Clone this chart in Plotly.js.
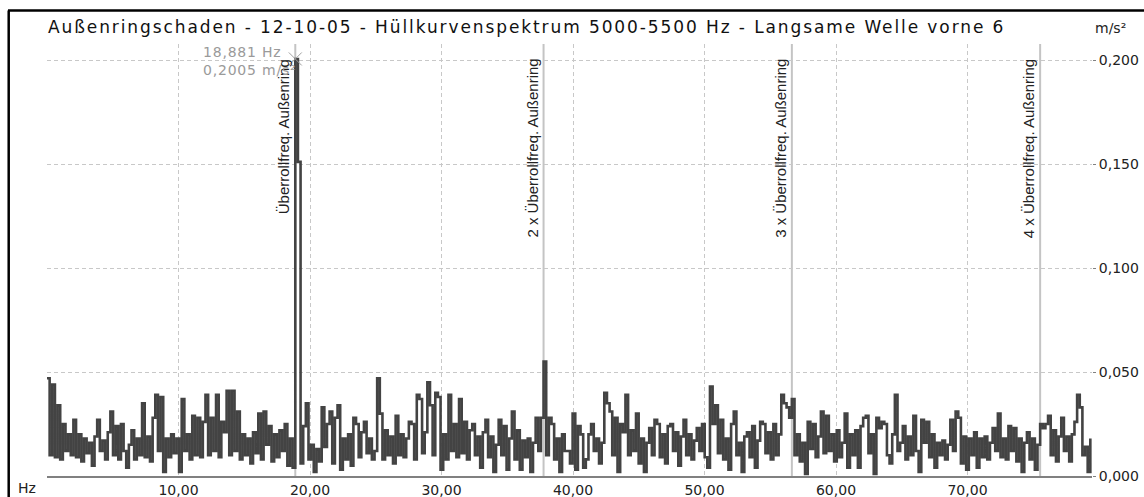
<!DOCTYPE html>
<html>
<head>
<meta charset="utf-8">
<script src="https://cdn.plot.ly/plotly-3.0.1.min.js"></script>
<style>
html,body{margin:0;padding:0;background:#fff;}
#chart{width:1144px;height:497px;}
#chart .gtitle{letter-spacing:1.9px;}
#chart .annotation[data-index="4"] text{letter-spacing:0.8px;}
</style>
</head>
<body>
<div id="chart"></div>
<script>
// Envelope spectrum amplitude (m/s²)
const amplitude = [
0.047,0.010,0.044,0.009,0.034,0.008,0.025,0.012,0.020,0.010,
0.027,0.009,0.020,0.007,0.018,0.011,0.016,0.005,0.019,0.027,
0.012,0.017,0.008,0.021,0.031,0.010,0.024,0.008,0.025,0.012,
0.004,0.015,0.022,0.008,0.018,0.010,0.035,0.009,0.019,0.007,
0.028,0.039,0.012,0.038,0.002,0.018,0.009,0.020,0.011,0.018,
0.002,0.037,0.012,0.020,0.008,0.029,0.010,0.028,0.009,0.026,
0.039,0.010,0.028,0.012,0.039,0.009,0.026,0.021,0.041,0.010,
0.041,0.012,0.031,0.008,0.020,0.010,0.018,0.006,0.021,0.011,
0.030,0.008,0.031,0.015,0.024,0.007,0.020,0.009,0.022,0.012,
0.025,0.005,0.018,0.004,0.2005,0.151,0.006,0.024,0.035,0.008,
0.015,0.002,0.013,0.007,0.033,0.014,0.025,0.031,0.006,0.028,
0.034,0.003,0.018,0.008,0.020,0.005,0.028,0.025,0.009,0.021,
0.026,0.011,0.018,0.008,0.012,0.047,0.030,0.008,0.022,0.010,
0.019,0.006,0.029,0.010,0.020,0.009,0.018,0.026,0.025,0.008,
0.039,0.037,0.011,0.021,0.045,0.034,0.010,0.040,0.038,0.003,
0.020,0.008,0.039,0.012,0.025,0.009,0.037,0.011,0.026,0.008,
0.022,0.025,0.010,0.019,0.004,0.021,0.027,0.009,0.019,0.002,
0.015,0.027,0.010,0.024,0.003,0.018,0.031,0.008,0.022,0.003,
0.017,0.009,0.018,0.002,0.016,0.028,0.012,0.028,0.055,0.010,
0.028,0.025,0.008,0.018,0.002,0.020,0.012,0.012,0.006,0.030,
0.003,0.024,0.020,0.004,0.008,0.020,0.025,0.012,0.018,0.006,
0.016,0.040,0.035,0.031,0.010,0.028,0.002,0.025,0.021,0.039,
0.010,0.022,0.012,0.030,0.006,0.018,0.002,0.016,0.023,0.010,
0.027,0.025,0.009,0.020,0.006,0.024,0.025,0.012,0.021,0.005,
0.019,0.027,0.010,0.020,0.008,0.017,0.023,0.012,0.025,0.009,
0.004,0.043,0.025,0.034,0.011,0.027,0.008,0.018,0.003,0.025,
0.031,0.010,0.016,0.002,0.019,0.021,0.009,0.024,0.004,0.017,
0.026,0.025,0.011,0.021,0.008,0.025,0.010,0.020,0.039,0.035,
0.033,0.028,0.037,0.010,0.020,0.007,0.016,0.001,0.026,0.013,
0.025,0.009,0.019,0.031,0.011,0.029,0.012,0.020,0.007,0.022,
0.009,0.016,0.030,0.004,0.020,0.010,0.022,0.004,0.024,0.028,
0.029,0.011,0.020,0.001,0.028,0.023,0.026,0.025,0.010,0.006,
0.020,0.039,0.012,0.016,0.024,0.008,0.019,0.010,0.029,0.012,
0.002,0.027,0.016,0.026,0.009,0.020,0.004,0.016,0.010,0.017,
0.008,0.015,0.027,0.012,0.031,0.028,0.006,0.019,0.003,0.018,
0.010,0.021,0.004,0.018,0.009,0.019,0.008,0.016,0.023,0.012,
0.030,0.009,0.018,0.008,0.024,0.012,0.023,0.007,0.018,0.002,
0.016,0.021,0.008,0.018,0.003,0.015,0.025,0.023,0.025,0.029,
0.010,0.022,0.007,0.019,0.028,0.012,0.019,0.007,0.020,0.026,
0.039,0.033,0.010,0.014,0.002,0.018
];
// Frequency grid: the fundamental line is bin 94
const fundamentalHz = 18.881;
const fundamentalBin = 94;
const freqStep = fundamentalHz / fundamentalBin;
const frequency = amplitude.map((_, i) => i * freqStep);

// Harmonic markers
const markerFreqs = [18.881, 37.762, 56.643, 75.524];
const markerLabels = ["Überrollfreq. Außenring", "2 x Überrollfreq. Außenring", "3 x Überrollfreq. Außenring", "4 x Überrollfreq. Außenring"];

// Cursor readout
const cursorFreq = 18.881;
const cursorAmp = 0.2005;
const cursorText = ["18,881 Hz", "0,2005 m/s²"];

// Axis ticks
const xTicks = [10, 20, 30, 40, 50, 60, 70];
const yTicks = [0, 0.05, 0.1, 0.15, 0.2];

const titleText = "Außenringschaden - 12-10-05 - Hüllkurvenspektrum 5000-5500 Hz - Langsame Welle vorne 6";

const W = 1144, H = 497;
const mL = 47, mR = 52, mT = 44, mB = 21;
const plotW = W - mL - mR, plotH = H - mT - mB;
const px2paperX = px => (px - mL) / plotW;
const py2paperY = py => (H - mB - py) / plotH;

const baseFont = 'DejaVu Sans, Verdana, sans-serif';

const traces = [
  {
    x: frequency, y: amplitude, type: 'scatter', mode: 'lines',
    line: {color: '#434343', width: 2.6, shape: 'hv'}, hoverinfo: 'skip'
  },
  {
    x: [cursorFreq], y: [cursorAmp], type: 'scatter', mode: 'markers',
    marker: {symbol: 'x-thin-open', size: 13, color: '#a0a0a0', line: {color: '#a0a0a0', width: 1}},
    hoverinfo: 'skip'
  }
];

const shapes = markerFreqs.map(f => ({
  type: 'line', xref: 'x', yref: 'paper', x0: f, x1: f, y0: 0, y1: 1,
  line: {color: '#c4c4c4', width: 2}, layer: 'between'
}));
// frame lines (top & left)
shapes.push({type: 'line', xref: 'paper', yref: 'paper', x0: px2paperX(8), x1: px2paperX(1146), y0: py2paperY(10.5), y1: py2paperY(10.5), line: {color: '#000', width: 2.5}});
shapes.push({type: 'line', xref: 'paper', yref: 'paper', x0: px2paperX(8.7), x1: px2paperX(8.7), y0: py2paperY(10.5), y1: py2paperY(500), line: {color: '#000', width: 2.5}});

const annotations = markerLabels.map((t, i) => ({
  text: t, x: markerFreqs[i], xref: 'x', y: py2paperY(57), yref: 'paper',
  xanchor: 'right', yanchor: 'top', xshift: -1, textangle: -90, showarrow: false,
  font: {family: 'Liberation Sans, Arial, sans-serif', size: 15, color: '#222'}
}));
annotations.push({
  text: cursorText.join('<br>'), x: cursorFreq, y: cursorAmp, xref: 'x', yref: 'y',
  xanchor: 'right', yanchor: 'middle', xshift: -5, yshift: -2, align: 'left', showarrow: false,
  font: {family: baseFont, size: 14, color: '#9a9a9a'}
});
annotations.push({
  text: 'Hz', x: px2paperX(27), y: py2paperY(488), xref: 'paper', yref: 'paper',
  xanchor: 'center', yanchor: 'middle', showarrow: false, font: {family: baseFont, size: 14, color: '#222'}
});
annotations.push({
  text: 'm/s²', x: px2paperX(1110), y: py2paperY(28), xref: 'paper', yref: 'paper',
  xanchor: 'center', yanchor: 'middle', showarrow: false, font: {family: baseFont, size: 14, color: '#222'}
});

const layout = {
  width: W, height: H,
  margin: {l: mL, r: mR, t: mT, b: mB, pad: 0},
  paper_bgcolor: '#fff', plot_bgcolor: '#fff',
  separators: ',.',
  showlegend: false,
  title: {
    text: titleText, xref: 'container', yref: 'container',
    x: 48 / W, xanchor: 'left', y: 1 - 27 / H, yanchor: 'middle',
    font: {family: baseFont, size: 17, color: '#111'}
  },
  xaxis: {
    range: [0, plotW / 13.15], tickvals: xTicks, tickformat: '.2f',
    showgrid: true, gridcolor: '#c8c8c8', griddash: '4px,3px', gridwidth: 1,
    zeroline: false, showline: true, linecolor: '#808080', linewidth: 2,
    ticks: '', tickfont: {family: baseFont, size: 14, color: '#222'}, fixedrange: true
  },
  yaxis: {
    range: [0, (H - mB - mT) / 2080], side: 'right', tickvals: yTicks, tickformat: '.3f',
    showgrid: true, gridcolor: '#c8c8c8', griddash: '4px,3px', gridwidth: 1,
    zeroline: false, showline: false, ticks: 'outside', ticklen: 3, tickcolor: '#808080',
    tickfont: {family: baseFont, size: 14, color: '#222'}, fixedrange: true
  },
  shapes: shapes,
  annotations: annotations
};

Plotly.newPlot('chart', traces, layout, {staticPlot: true, displayModeBar: false});
</script>
</body>
</html>
